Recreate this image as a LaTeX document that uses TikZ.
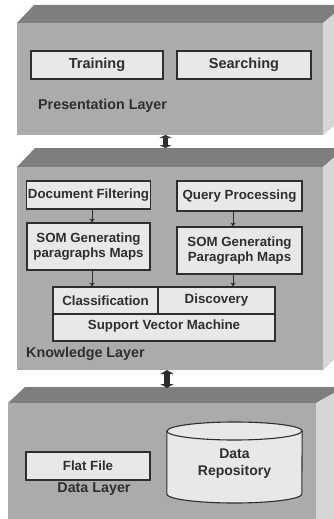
\documentclass[tikz,border=0pt]{standalone}
\usepackage{fontspec}
\setmainfont{Liberation Sans}
\usetikzlibrary{arrows.meta}
\definecolor{front}{HTML}{ABABAB}
\definecolor{topf}{HTML}{7E7E7E}
\definecolor{side}{HTML}{D6D6D6}
\definecolor{boxfill}{HTML}{E8E8E8}
\definecolor{ink}{HTML}{2E2E2E}
\tikzset{
  box/.style={draw=ink, fill=boxfill, line width=1.1pt, inner sep=1pt, align=center,
    font=\bfseries\fontsize{13.3}{14.5}\selectfont, text=ink},
  bigbox/.style={box, font=\bfseries\fontsize{14.5}{16}\selectfont},
  layerlabel/.style={font=\bfseries\fontsize{14.3}{15}\selectfont, text=ink, inner sep=0pt},
  smallarrow/.style={draw=ink, line width=1pt, -{Stealth[length=4pt,width=5pt]}},
  bigarrow/.style={draw=ink, line width=6pt, {Triangle[width=13pt,length=4pt]}-{Triangle[width=13pt,length=4pt]}},
}
\begin{document}
\begin{tikzpicture}[x=1pt,y=-1pt]
\useasboundingbox (0,0) rectangle (334,519);
\begin{scope}
\clip (0,0) rectangle (334,519);
% top layer
\fill[topf] (17,23) -- (34,5) -- (345,5) -- (323,23) -- cycle;
\fill[side] (323,23) -- (345,5) -- (345,117) -- (323,135) -- cycle;
\fill[front] (17,23) rectangle (323,135);
% middle layer
\fill[topf] (17,167) -- (35,148) -- (345,148) -- (323,167) -- cycle;
\fill[side] (323,167) -- (345,148) -- (345,350) -- (323,370) -- cycle;
\fill[front] (17,167) rectangle (323,370);
% bottom layer
\fill[topf] (8,403) -- (25,387) -- (345,387) -- (316,403) -- cycle;
\fill[side] (316,403) -- (345,387) -- (345,519) -- (316,519) -- cycle;
\fill[front] (8,403) rectangle (316,520);
\end{scope}

% presentation layer
\node[bigbox, minimum width=132pt, minimum height=28pt] (train) at (97,65) {Training};
\node[bigbox, minimum width=134pt, minimum height=28pt] (search) at (244,65) {Searching};
\node[layerlabel, anchor=west] (plab) at (38,106) {Presentation Layer};

% knowledge layer
\node[box, minimum width=123pt, minimum height=28pt] (docf) at (88.5,195) {Document Filtering};
\node[box, minimum width=125pt, minimum height=30pt] (qp) at (239.5,196) {Query Processing};
\node[box, minimum width=123pt, minimum height=47pt] (som1) at (88.5,246.5) {SOM Generating\\paragraphs Maps};
\node[box, minimum width=125pt, minimum height=47pt] (som2) at (239.5,250.5) {SOM Generating\\Paragraph Maps};
\node[box, minimum width=222pt, minimum height=27pt, text height=10pt, text depth=6pt] (svm) at (164,327.5) {Support Vector Machine};
\node[box, minimum width=105pt, minimum height=27pt] (cls) at (105.5,300.5) {Classification};
\node[box, minimum width=117pt, minimum height=27pt] (disc) at (216.5,300.5) {Discovery};
\node[layerlabel, anchor=west] (klab) at (26,354) {Knowledge Layer};

\draw[smallarrow] (docf.south -| 92,0) -- (som1.north -| 92,0);
\draw[smallarrow] (som1.south -| 92,0) -- (cls.north -| 92,0);
\draw[smallarrow] (qp.south -| 233,0) -- (som2.north -| 233,0);
\draw[smallarrow] (som2.south -| 233,0) -- (disc.north -| 233,0);

% data layer
\node[box, minimum width=124pt, minimum height=28pt] (flat) at (88,466) {Flat File};
\node[layerlabel] (dlab) at (94,489) {Data Layer};
\node[minimum width=135pt, minimum height=81pt, inner sep=0pt] (repo) at (234.5,462.5) {};
\draw[draw=ink, fill=boxfill, line width=1.1pt]
  (repo.west |- 0,431) -- (repo.west |- 0,494) arc[start angle=180, end angle=360, x radius=67.5, y radius=-9]
  -- (repo.east |- 0,431) arc[start angle=0, end angle=180, x radius=67.5, y radius=-9] -- cycle;
\draw[draw=ink, line width=1.1pt] (repo.west |- 0,431) arc[start angle=180, end angle=360, x radius=67.5, y radius=-9];
\node[align=center, font=\bfseries\fontsize{14}{17}\selectfont, text=ink] (repotext) at (234.5,464) {Data\\Repository};

% connectors between layers
\coordinate (pbot) at (165.5,135);
\coordinate (ktop) at (165.5,148);
\coordinate (kbot) at (167,370);
\coordinate (dtop) at (167,388);
\draw[bigarrow, line width=5pt, {Triangle[width=12pt,length=3pt]}-{Triangle[width=12pt,length=3pt]}] (pbot) -- (ktop);
\draw[bigarrow] (kbot) -- (dtop);
\end{tikzpicture}
\end{document}
